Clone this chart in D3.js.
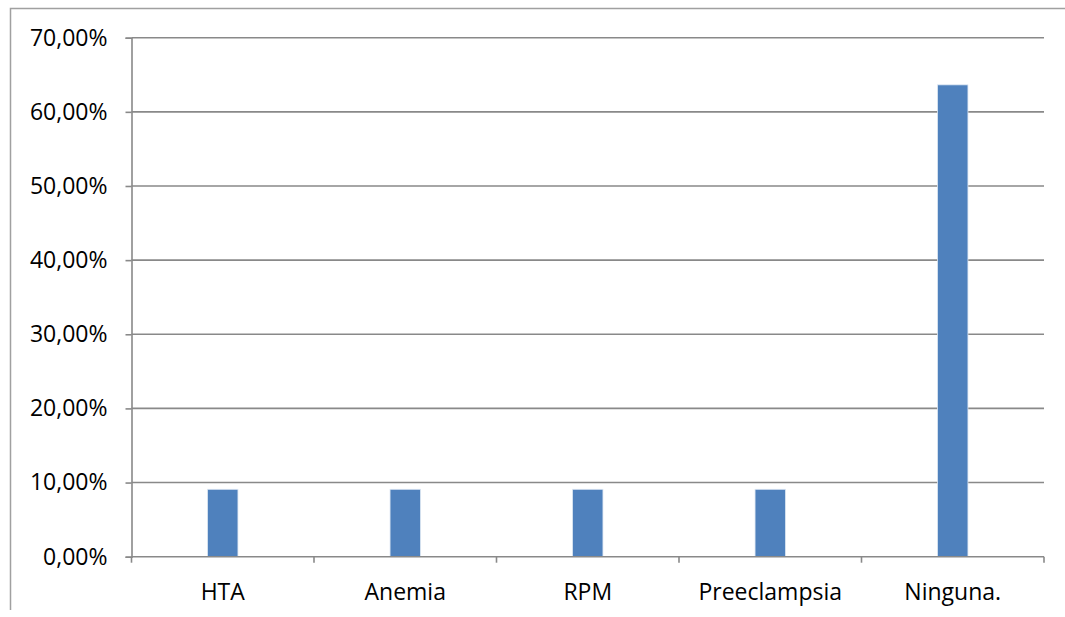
<!DOCTYPE html>
<html>
<head>
<meta charset="utf-8">
<script src="https://cdn.jsdelivr.net/npm/d3@7"></script>
<style>
  html, body { margin: 0; padding: 0; background: #fff; }
  svg { display: block; }
  text { font-family: "Open Sans", Lato, sans-serif; fill: #000; }
</style>
</head>
<body>
<svg id="chart" width="1065" height="617"></svg>
<script>
// Complicaciones del embarazo (porcentaje de casos)
const categories = ["HTA", "Anemia", "RPM", "Preeclampsia", "Ninguna."];
const values = [9.09, 9.09, 9.09, 9.09, 63.64];
const yTicks = [0, 10, 20, 30, 40, 50, 60, 70];

const svg = d3.select("#chart");
const plot = { left: 131.5, right: 1044, top: 37.7, bottom: 556.7 };
const FONT = "'Open Sans', Lato, sans-serif";
const FONT_SIZE = 23;

// Outer frame (top and left edges)
svg.append("path")
  .attr("d", "M10.5,610 V8.5 H1065")
  .attr("fill", "none")
  .attr("stroke", "#a0a0a0")
  .attr("stroke-width", 1.5);

const x = d3.scaleBand()
  .domain(categories)
  .range([plot.left, plot.right])
  .paddingInner(0)
  .paddingOuter(0);

const y = d3.scaleLinear()
  .domain([0, 70])
  .range([plot.bottom, plot.top]);

const fmt = d => d.toFixed(2).replace(".", ",") + "%";

// Horizontal gridlines
svg.append("g")
  .selectAll("line")
  .data(yTicks.filter(d => d > 0))
  .join("line")
  .attr("x1", plot.left)
  .attr("x2", plot.right)
  .attr("y1", d => y(d))
  .attr("y2", d => y(d))
  .attr("stroke", "#898989")
  .attr("stroke-width", 1.6);

// Y axis
const yAxis = svg.append("g")
  .attr("transform", `translate(${plot.left},0)`)
  .call(d3.axisLeft(y).tickValues(yTicks).tickFormat(fmt).tickSize(6).tickPadding(18));
yAxis.attr("font-size", FONT_SIZE).attr("font-family", FONT);
yAxis.select(".domain").attr("stroke", "#898989").attr("stroke-width", 1.6);
yAxis.selectAll(".tick line").attr("stroke", "#898989").attr("stroke-width", 1.6);
yAxis.selectAll(".tick text").attr("fill", "#000");

// Bars
svg.append("g")
  .selectAll("rect")
  .data(categories.map((c, i) => ({ c, v: values[i] })))
  .join("rect")
  .attr("x", d => x(d.c) + x.bandwidth() / 2 - 15.2)
  .attr("width", 30.4)
  .attr("y", d => y(d.v))
  .attr("height", d => y(0) - y(d.v))
  .attr("fill", "#4f81bd")
  .attr("stroke", "#dce6f2")
  .attr("stroke-width", 0.8);

// X axis with category boundary ticks
const xAxisG = svg.append("g").attr("transform", `translate(0,${plot.bottom})`);
xAxisG.append("line")
  .attr("x1", plot.left).attr("x2", plot.right)
  .attr("stroke", "#898989").attr("stroke-width", 1.6);
const bounds = categories.map(c => x(c)).concat([plot.right]);
xAxisG.selectAll("line.tick")
  .data(bounds)
  .join("line")
  .attr("class", "tick")
  .attr("x1", d => d).attr("x2", d => d)
  .attr("y1", 0).attr("y2", 6)
  .attr("stroke", "#898989").attr("stroke-width", 1.6);
xAxisG.selectAll("text")
  .data(categories)
  .join("text")
  .attr("x", d => x(d) + x.bandwidth() / 2)
  .attr("y", 43)
  .attr("text-anchor", "middle")
  .attr("font-size", FONT_SIZE)
  .attr("font-family", FONT)
  .text(d => d);
</script>
</body>
</html>
